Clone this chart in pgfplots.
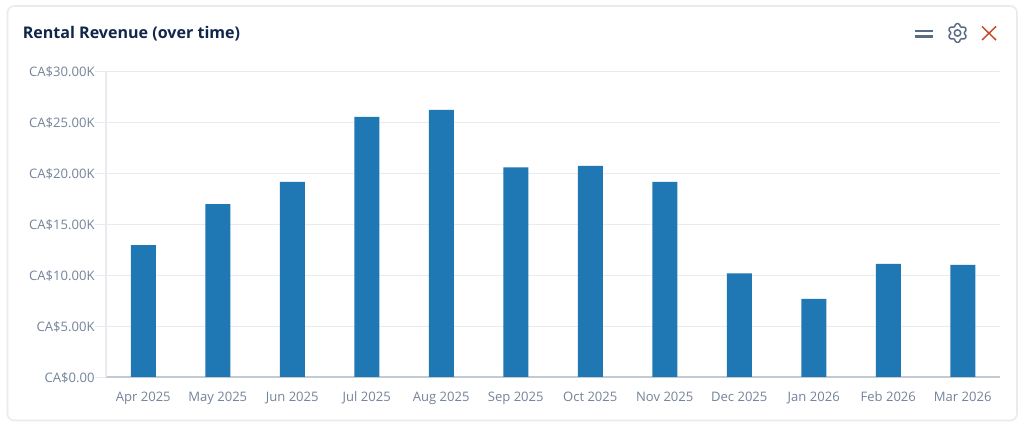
\documentclass[border=0pt]{standalone}
\usepackage{fontspec}
\setmainfont{Open Sans}
\usepackage{pgfplots}
\pgfplotsset{compat=1.18}
\definecolor{barblue}{HTML}{1F77B4}
\definecolor{gridc}{HTML}{E8EBF0}
\definecolor{axisc}{HTML}{C3CAD4}
\definecolor{tickc}{HTML}{74849A}
\definecolor{titlec}{HTML}{10264A}
\definecolor{iconc}{HTML}{5A6B85}
\definecolor{closec}{HTML}{C8492A}
\definecolor{cardc}{HTML}{E9EBEF}

\begin{document}
\begin{tikzpicture}
\path[use as bounding box] (0,0) rectangle (768pt,320.25pt);
\begin{scope}[x=0.75pt,y=-0.75pt,yshift=320.25pt]
  % card and header, positions in reference pixels
  \draw[cardc,line width=1.2pt,rounded corners=5pt,fill=white] (7.5,6) rectangle (1017,420.5);
  \node[anchor=west,inner sep=0pt,text=titlec,font=\bfseries\fontsize{12.05pt}{14pt}\selectfont] at (22.5,33.7) {Rental Revenue (over time)};
  \draw[iconc,line width=1.6pt] (915,31) -- (933,31) (915,36.5) -- (933,36.5);
  \draw[iconc,line width=1.1pt,rounded corners=0.6pt,shift={(957.5,33)}]
    (0:6.5) \foreach \a/\r in {20/9.4,40/9.4,60/6.5,80/9.4,100/9.4,120/6.5,140/9.4,160/9.4,180/6.5,200/9.4,220/9.4,240/6.5,260/9.4,280/9.4,300/6.5,320/9.4,340/9.4} { -- (\a:\r) } -- cycle;
  \draw[iconc,line width=1.1pt] (957.5,33) circle (2.4pt);
  \draw[closec,line width=1.1pt] (982,26.5) -- (996,40) (996,26.5) -- (982,40);
\end{scope}
\begin{axis}[
    at={(79.5pt,37.5pt)},
    anchor=south west,
    scale only axis,
    width=670.5pt,
    height=229.5pt,
    xmin=-0.5, xmax=11.5,
    ymin=0, ymax=30,
    axis x line=bottom,
    axis y line=left,
    axis line style={-},
    x axis line style={axisc,line width=0.9pt},
    y axis line style={gridc,line width=0.8pt},
    ytick={0,5,10,15,20,25,30},
    yticklabels={CA\$0.00,CA\$5.00K,CA\$10.00K,CA\$15.00K,CA\$20.00K,CA\$25.00K,CA\$30.00K},
    xtick={0,...,11},
    xticklabels={Apr 2025,May 2025,Jun 2025,Jul 2025,Aug 2025,Sep 2025,Oct 2025,Nov 2025,Dec 2025,Jan 2026,Feb 2026,Mar 2026},
    tick label style={text=tickc,font=\fontsize{9.8pt}{12pt}\selectfont},
    x tick style={draw=none},
    y tick style={gridc,line width=0.7pt},
    tick align=outside,
    major tick length=8pt,
    yticklabel style={inner xsep=0pt,xshift=-0.4pt,yshift=-0.6pt},
    xticklabel style={text height=7.5pt,text depth=2.2pt,yshift=0.5pt},
    ymajorgrids,
    major grid style={gridc,line width=0.6pt},
]
\addplot[ybar,bar width=18.75pt,bar shift=0pt,fill=barblue,draw=none] coordinates {
(0,12.94) (1,16.96) (2,19.12) (3,25.5) (4,26.2) (5,20.55)
(6,20.7) (7,19.12) (8,10.15) (9,7.65) (10,11.1) (11,11.0)
};
\end{axis}
\end{tikzpicture}
\end{document}
